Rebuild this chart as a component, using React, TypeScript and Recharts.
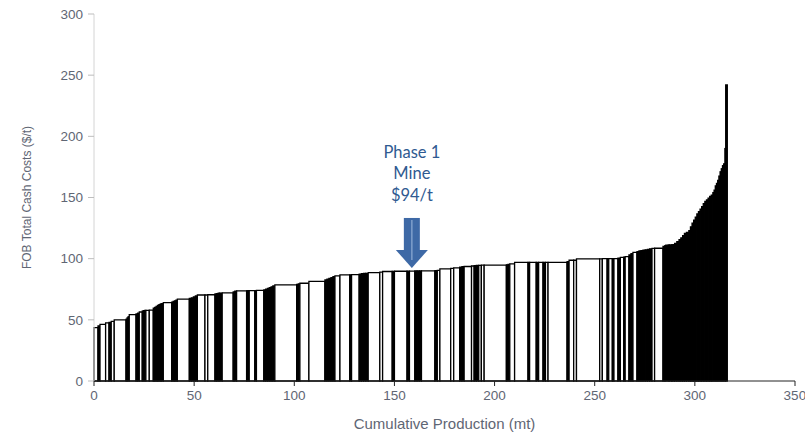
import { ComposedChart, XAxis, YAxis, Line, ReferenceArea, ReferenceDot } from 'recharts';

// production of each operation (mt), in cost order
const capacity = [
  2.0, 1.0, 2.8, 1.7, 1.1, 1.5, 5.9, 0.5, 0.5, 0.6, 3.4, 0.8, 0.8, 1.5, 0.6, 0.6, 0.6, 1.7, 2.0,
  0.7, 0.7, 0.7, 0.7, 0.7, 0.7, 0.8, 4.2, 0.7, 0.7, 0.7, 0.7, 6.0, 1.0, 1.0, 1.0, 1.0, 3.8,
  1.4, 3.6, 0.8, 0.8, 0.8, 1.2, 5.5, 0.8, 0.9, 5.0, 0.6, 0.7, 2.8, 0.8, 3.7, 0.9, 0.9, 0.9,
  0.9, 0.9, 1.0, 10.9, 0.8, 0.8, 4.5, 8.0, 1.0, 1.0, 1.0, 1.0, 1.0, 2.5, 4.9, 0.9, 3.8, 1.1,
  1.1, 1.1, 1.2, 5.8, 1.4, 4.8, 1.1, 6.3, 1.2, 2.7, 1.1, 1.1, 1.1, 6.7, 1.2, 1.3,
  5.4, 1.5, 3.0, 1.1, 1.1, 3.7, 1.3, 1.1, 1.2, 1.3, 1.4, 11.1, 0.8, 0.9, 2.4, 6.7, 0.8, 3.3,
  1.2, 2.2, 1.2, 1.3, 9.5,
  1.0, 2.3, 1.4, 11.6, 1.3, 2.4, 0.8, 1.8, 0.8, 2.0, 1.2, 1.7, 0.7, 1.9, 1.0, 1.0, 2.0, 1.0,
  1.0, 1.0, 1.1, 1.1, 1.1, 1.2, 1.3, 4.2, 0.8, 0.6, 1.2, 0.6, 1.0, 0.7, 0.9, 1.1, 1.1, 0.9,
  0.9, 0.9, 1.0, 1.2,
  0.8, 0.8, 0.8, 0.8, 0.8, 0.8, 0.8, 0.8, 0.8, 0.8, 0.8, 0.8, 0.8, 0.8, 0.8,
  0.6, 0.6, 0.6, 0.6, 0.6, 0.6, 0.6, 0.6, 0.6, 0.6, 0.4, 0.8,
];

// FOB total cash cost of each operation ($/t)
const cost = [
  43.6, 45, 46.3, 47.5, 48, 48.8, 49.9, 50.5, 51.5, 52.5, 54.2, 54.8, 55.5, 56.4, 57.2, 57.5, 57.7, 57.8, 58,
  59.5, 60.2, 61, 61.8, 62.5, 63, 63.3, 64, 64.5, 65, 65.4, 66, 67, 67.5, 68, 68.8, 69.5, 70.3,
  70.3, 70.5, 71.2, 71.5, 71.8, 71.9, 72, 72.8, 73.5, 73.6, 73.7, 73.8, 73.8, 73.9, 74, 74.5, 75, 75.6,
  76.3, 77, 77.7, 78.5, 79, 79.3, 79.9, 81.5, 82.6, 83.2, 83.8, 84.5, 85.3, 86, 86.7, 86.8, 87, 87.4,
  87.7, 87.9, 88, 88.6, 89, 89.5, 89.6, 89.7, 89.8, 89.8, 89.9, 89.9, 90, 90, 90.2, 90.5,
  91.6, 92, 92.5, 93, 93.5, 93.6, 94, 94.2, 94.4, 94.5, 94.7, 94.8, 95, 95.3, 95.8, 97, 97, 97,
  97, 97, 97, 97, 97,
  97.5, 98.7, 98.7, 99.8, 99.9, 100, 100, 100, 100, 100, 100.5, 101, 101.2, 101.7, 103, 104, 105.2, 105.8,
  106.3, 106.6, 106.9, 107.2, 107.5, 108, 108.4, 108.5, 110, 110.5, 111, 111.1, 111.2, 111.3, 111.5, 112.5, 114, 115.5,
  117, 118.8, 120.7, 121.5,
  123, 126, 129, 131.5, 134, 136.5, 138.5, 140.5, 142.6, 145, 146.8, 148, 149.5, 150.8, 152,
  154, 156, 159.5, 161.5, 164, 167.5, 171, 173.5, 176, 177.5, 190, 242,
];

const xTicks = [0, 50, 100, 150, 200, 250, 300, 350];
const yTicks = [0, 50, 100, 150, 200, 250, 300];

const annotation = { x: 158.7, y: 92.4, lines: ['Phase 1', 'Mine', '$94/t'] };

let running = 0;
const mines = capacity.map((w, i) => {
  const start = running;
  running += w;
  return { start, end: running, cost: cost[i], width: w };
});

const BLUE = '#2f5a91';
const AXIS_FONT = 'Liberation Sans, Arial, sans-serif';

function PhaseArrow(props: any) {
  const { cx, cy } = props;
  if (cx == null || cy == null) return null;
  const head = `${cx - 16},${cy - 18} ${cx + 16},${cy - 18} ${cx},${cy}`;
  return (
    <g>
      {annotation.lines.map((t, i) => (
        <text
          key={t}
          x={cx}
          y={cy - 110 + i * 21.5}
          textAnchor="middle"
          fill={BLUE}
          fontSize={16.5}
          fontFamily="Lato, 'Open Sans', sans-serif"
        >
          {t}
        </text>
      ))}
      <rect x={cx - 8} y={cy - 50} width={16} height={33} fill="#3e69a6" />
      <polygon points={head} fill="#3e69a6" />
      <line x1={cx} y1={cy - 48} x2={cx} y2={cy - 8} stroke="#7f9fcc" strokeWidth={1.5} />
    </g>
  );
}

export default function App() {
  const tickStyle = { fontSize: 13.5, fill: '#5f6674', fontFamily: AXIS_FONT };
  return (
    <div style={{ position: 'absolute', left: 0, top: 0, background: '#fff' }}>
      <ComposedChart width={805} height={435} data={mines} margin={{ top: 14, right: 10, bottom: 0, left: 0 }}>
        <XAxis
          type="number"
          dataKey="end"
          domain={[0, 350]}
          ticks={xTicks}
          allowDataOverflow
          height={54}
          tick={{ ...tickStyle, dy: 2 }}
          tickSize={5}
          axisLine={{ stroke: '#222' }}
          tickLine={{ stroke: '#222' }}
          label={{
            value: 'Cumulative Production (mt)',
            position: 'insideBottom',
            offset: 6,
            style: { fontSize: 15, fill: '#5f6674', fontFamily: AXIS_FONT },
          }}
        />
        <YAxis
          type="number"
          domain={[0, 300]}
          ticks={yTicks}
          allowDataOverflow
          width={94}
          tick={{ ...tickStyle, dx: -3 }}
          tickSize={6}
          axisLine={{ stroke: '#d4d4d4' }}
          tickLine={{ stroke: '#bdbdbd' }}
          label={{
            value: 'FOB Total Cash Costs ($/t)',
            angle: -90,
            position: 'insideLeft',
            offset: 27,
            style: { fontSize: 12, fill: '#5f6674', fontFamily: AXIS_FONT, textAnchor: 'middle' },
          }}
        />
        {mines.map((m, i) => (
          <ReferenceArea
            key={i}
            x1={m.start}
            x2={m.end}
            y1={0}
            y2={m.cost}
            fill={m.width < 1.25 ? '#000' : '#fff'}
            fillOpacity={1}
            stroke="#000"
            strokeWidth={1.3}
          />
        ))}
        <Line dataKey="cost" stroke="none" dot={false} activeDot={false} isAnimationActive={false} />
        <ReferenceDot x={annotation.x} y={annotation.y} r={0} shape={PhaseArrow} />
      </ComposedChart>
    </div>
  );
}
